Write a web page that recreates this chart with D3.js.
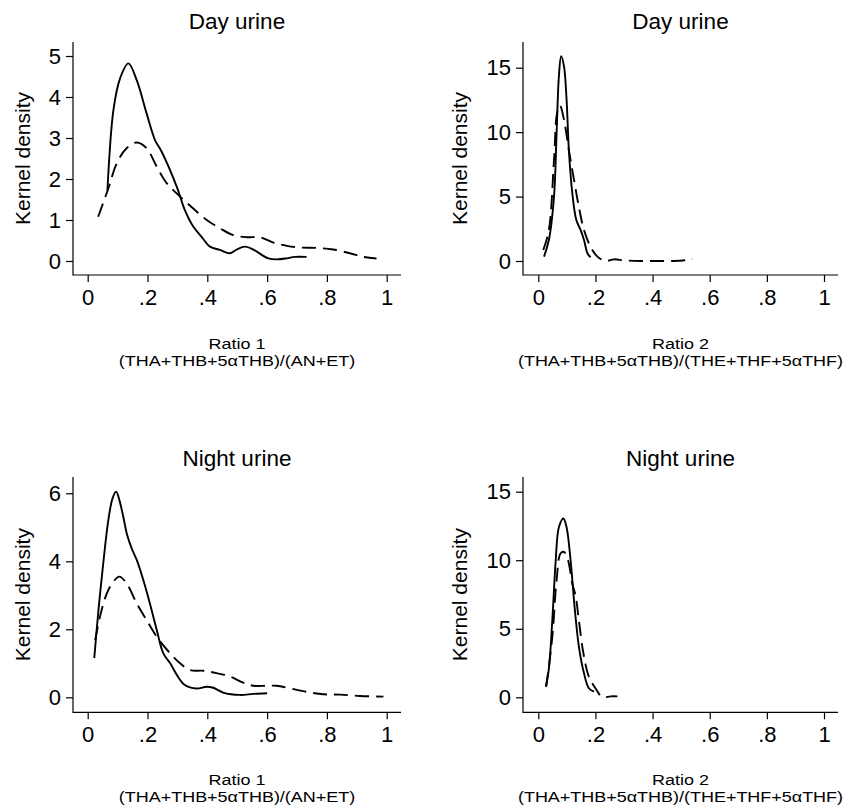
<!DOCTYPE html>
<html>
<head>
<meta charset="utf-8">
<script src="https://cdn.jsdelivr.net/npm/d3@7"></script>
<style>
  html, body { margin: 0; padding: 0; background: #fff; }
  svg { display: block; }
  text { font-family: "Liberation Sans", Arial, Helvetica, sans-serif; fill: #000; }
</style>
</head>
<body>
<svg id="chart" width="848" height="808"></svg>
<script>
// Kernel density estimates, [ratio, density] pairs per group and sample
const dayRatio1Solid = [
  [0.066,1.73],[0.086,3.68],[0.108,4.45],[0.136,4.82],[0.164,4.41],[0.197,3.6],
  [0.225,2.95],[0.247,2.67],[0.298,1.81],[0.325,1.24],[0.353,0.84],[0.381,0.59],
  [0.409,0.35],[0.442,0.27],[0.476,0.19],[0.498,0.28],[0.526,0.35],[0.554,0.28],
  [0.582,0.15],[0.604,0.065],[0.632,0.04],[0.666,0.065],[0.693,0.1],[0.732,0.1]
];
const dayRatio1Dashed = [
  [0.035,1.08],[0.069,1.77],[0.097,2.38],[0.130,2.75],[0.164,2.89],[0.197,2.75],
  [0.231,2.3],[0.264,1.9],[0.309,1.57],[0.353,1.28],[0.398,1.0],[0.442,0.8],
  [0.487,0.63],[0.532,0.58],[0.576,0.58],[0.621,0.45],[0.666,0.37],[0.710,0.33],
  [0.766,0.32],[0.821,0.28],[0.877,0.19],[0.922,0.1],[0.966,0.06]
];
const dayRatio2Solid = [
  [0.020,0.34],[0.037,1.63],[0.055,5.0],[0.064,9.9],[0.072,14.3],[0.080,15.9],
  [0.090,15.1],[0.099,12.5],[0.107,8.6],[0.119,5.26],[0.133,3.18],[0.148,2.41],
  [0.160,1.63],[0.172,0.6],[0.183,0.29]
];
const dayRatio2Dashed = [
  [0.0175,0.85],[0.037,2.4],[0.055,7.85],[0.066,11.5],[0.076,12.05],[0.090,10.95],
  [0.107,8.6],[0.125,6.3],[0.142,4.2],[0.160,2.4],[0.183,1.1],[0.207,0.34],
  [0.236,0.0],[0.265,0.13],[0.300,0.05],[0.358,0.0],[0.416,0.0],[0.475,0.0],
  [0.521,0.08],[0.539,0.15]
];
const nightRatio1Solid = [
  [0.022,1.15],[0.035,2.47],[0.052,3.94],[0.069,5.21],[0.083,5.85],[0.095,6.05],
  [0.106,5.8],[0.119,5.31],[0.132,4.77],[0.147,4.38],[0.164,4.04],[0.186,3.45],
  [0.208,2.76],[0.231,1.98],[0.253,1.29],[0.276,1.0],[0.298,0.66],[0.325,0.36],
  [0.364,0.26],[0.398,0.31],[0.42,0.28],[0.453,0.14],[0.509,0.07],[0.554,0.1],[0.6,0.12]
];
const nightRatio1Dashed = [
  [0.025,1.68],[0.041,2.37],[0.064,3.06],[0.086,3.4],[0.106,3.55],[0.130,3.35],
  [0.164,2.76],[0.197,2.27],[0.231,1.78],[0.276,1.29],[0.309,1.0],[0.343,0.8],
  [0.387,0.78],[0.431,0.71],[0.476,0.61],[0.520,0.43],[0.554,0.34],[0.6,0.34],
  [0.632,0.34],[0.677,0.26],[0.732,0.16],[0.788,0.09],[0.844,0.08],[0.911,0.04],[0.989,0.02]
];
const nightRatio2Solid = [
  [0.026,0.77],[0.037,2.1],[0.049,5.6],[0.061,10.0],[0.072,12.4],[0.088,13.05],
  [0.099,12.4],[0.113,10.0],[0.127,6.6],[0.142,3.7],[0.160,1.75],[0.177,0.66],[0.195,0.41]
];
const nightRatio2Dashed = [
  [0.028,0.8],[0.049,4.4],[0.064,8.55],[0.078,10.5],[0.090,10.6],[0.104,10.0],
  [0.119,8.3],[0.131,7.35],[0.142,5.6],[0.158,3.2],[0.177,1.5],[0.200,0.66],
  [0.224,0.02],[0.253,0.07],[0.277,0.07]
];

// Axis ticks and labels
const xTicks = [0, 0.2, 0.4, 0.6, 0.8, 1];
const yTicksRatio1Day = [0, 1, 2, 3, 4, 5];
const yTicksRatio1Night = [0, 2, 4, 6];
const yTicksRatio2 = [0, 5, 10, 15];
const titles = ["Day urine", "Day urine", "Night urine", "Night urine"];
const xLabelsTop = ["Ratio 1", "Ratio 2", "Ratio 1", "Ratio 2"];
const xLabelsBottom = [
  "(THA+THB+5\u03b1THB)/(AN+ET)",
  "(THA+THB+5\u03b1THB)/(THE+THF+5\u03b1THF)",
  "(THA+THB+5\u03b1THB)/(AN+ET)",
  "(THA+THB+5\u03b1THB)/(THE+THF+5\u03b1THF)"
];
const yLabel = "Kernel density";

// Panel geometry: plot frame and tick positions
const panels = [
  { solid: dayRatio1Solid, dashed: dayRatio1Dashed, yTicks: yTicksRatio1Day, yMax: 5,
    axisX: 73, axisRight: 401, axisTop: 42, axisY: 275, x0: 87.7, x1: 386.7, y0: 261, y1: 56,
    titleY: 29, xl1: 348.5, xl2: 366, ylabX: 30 },
  { solid: dayRatio2Solid, dashed: dayRatio2Dashed, yTicks: yTicksRatio2, yMax: 15,
    axisX: 523, axisRight: 838, axisTop: 42, axisY: 275, x0: 538.3, x1: 824, y0: 261, y1: 67.7,
    titleY: 29, xl1: 348.5, xl2: 366, ylabX: 467 },
  { solid: nightRatio1Solid, dashed: nightRatio1Dashed, yTicks: yTicksRatio1Night, yMax: 6,
    axisX: 73, axisRight: 401, axisTop: 477, axisY: 712.3, x0: 87.7, x1: 386.7, y0: 697.3, y1: 493.3,
    titleY: 465.5, xl1: 784.5, xl2: 802, ylabX: 30 },
  { solid: nightRatio2Solid, dashed: nightRatio2Dashed, yTicks: yTicksRatio2, yMax: 15,
    axisX: 523, axisRight: 838, axisTop: 477, axisY: 712.3, x0: 538.3, x1: 824, y0: 697.3, y1: 491.7,
    titleY: 465.5, xl1: 784.5, xl2: 802, ylabX: 467 }
];

const svg = d3.select("#chart");
const fmtTick = d => d === 0 ? "0" : d === 1 ? "1" : d3.format(".1f")(d).replace(/^0/, "");
const FONT = "'Liberation Sans', Arial, sans-serif";

panels.forEach((p, i) => {
  const g = svg.append("g");
  const x = d3.scaleLinear().domain([0, 1]).range([p.x0, p.x1]);
  const y = d3.scaleLinear().domain([0, p.yMax]).range([p.y0, p.y1]);

  // axis frame lines
  g.append("line").attr("x1", p.axisX).attr("x2", p.axisX)
    .attr("y1", p.axisTop).attr("y2", p.axisY + 0.6)
    .attr("stroke", "#000").attr("stroke-width", 1.2);
  g.append("line").attr("x1", p.axisX).attr("x2", p.axisRight)
    .attr("y1", p.axisY).attr("y2", p.axisY)
    .attr("stroke", "#000").attr("stroke-width", 1.2);

  // x axis ticks
  const xa = g.append("g").attr("transform", `translate(0,${p.axisY})`)
    .call(d3.axisBottom(x).tickValues(xTicks).tickFormat(fmtTick).tickSize(7).tickPadding(7));
  xa.select(".domain").remove();
  xa.selectAll(".tick line").attr("stroke-width", 1.2);
  xa.selectAll(".tick text").attr("font-size", 22).attr("fill", "#000").attr("font-family", FONT);

  // y axis ticks
  const ya = g.append("g").attr("transform", `translate(${p.axisX},0)`)
    .call(d3.axisLeft(y).tickValues(p.yTicks).tickFormat(d3.format("d")).tickSize(7).tickPadding(5));
  ya.select(".domain").remove();
  ya.selectAll(".tick line").attr("stroke-width", 1.2);
  ya.selectAll(".tick text").attr("font-size", 22).attr("fill", "#000").attr("font-family", FONT);

  // density curves
  const line = d3.line().x(d => x(d[0])).y(d => y(d[1])).curve(d3.curveCatmullRom.alpha(0.5));
  g.append("path").datum(p.dashed).attr("d", line)
    .attr("fill", "none").attr("stroke", "#000").attr("stroke-width", 1.9)
    .attr("stroke-dasharray", "14,7");
  g.append("path").datum(p.solid).attr("d", line)
    .attr("fill", "none").attr("stroke", "#000").attr("stroke-width", 1.9);

  // texts
  const cx = (p.axisX + p.axisRight) / 2;
  g.append("text").attr("x", cx).attr("y", p.titleY).attr("text-anchor", "middle")
    .attr("font-size", 22.5).text(titles[i]);
  // two-line axis caption, slightly widened glyphs
  g.append("text").attr("transform", `translate(${cx},${p.xl1}) scale(1.16,1)`)
    .attr("text-anchor", "middle").attr("font-size", 15.5).text(xLabelsTop[i]);
  g.append("text").attr("transform", `translate(${cx},${p.xl2}) scale(1.16,1)`)
    .attr("text-anchor", "middle").attr("font-size", 15.5).text(xLabelsBottom[i]);
  const cy = (p.axisTop + p.axisY) / 2;
  g.append("text").attr("transform", `translate(${p.ylabX},${cy}) rotate(-90)`)
    .attr("text-anchor", "middle").attr("font-size", 21).text(yLabel);
});
</script>
</body>
</html>
